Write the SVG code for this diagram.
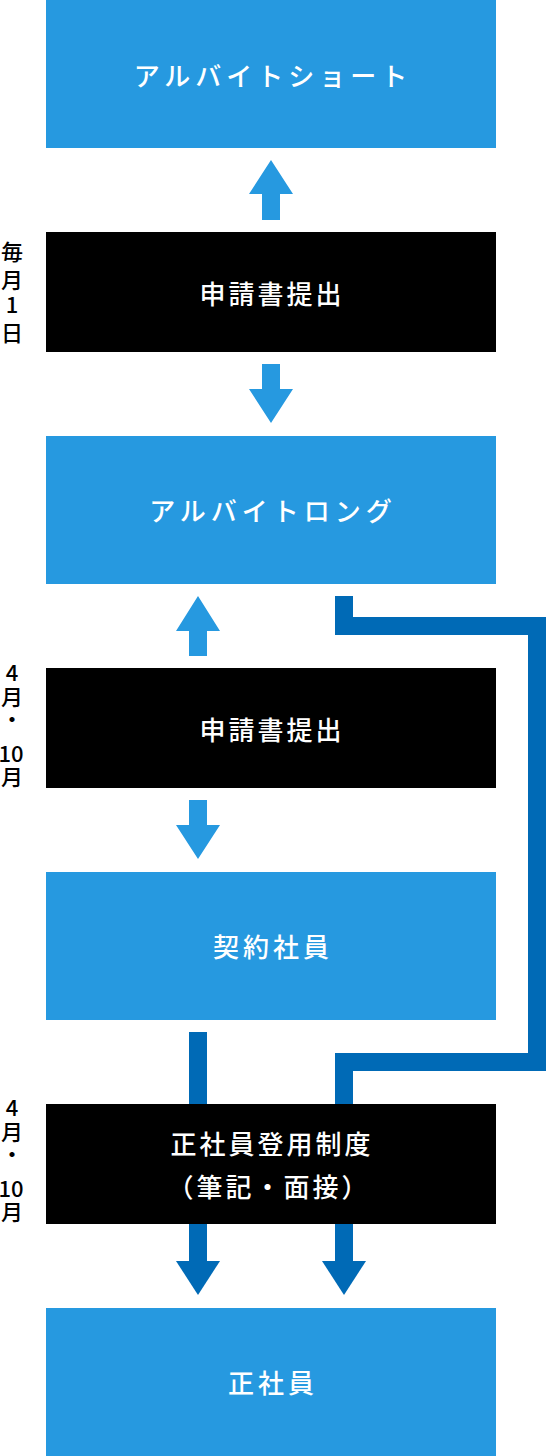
<svg xmlns="http://www.w3.org/2000/svg" width="546" height="1456" viewBox="0 0 546 1456">
<style>
.lb{fill:#2699e0}
.dk{fill:#000}
.db{fill:#006ab6}
.t{font-family:"Noto Sans CJK JP","Noto Sans",sans-serif;font-size:26px;font-weight:500;fill:#fff;text-anchor:middle;dominant-baseline:central;letter-spacing:5px}
.tb{font-family:"Noto Sans CJK JP","Noto Sans",sans-serif;font-size:26px;font-weight:500;fill:#fff;text-anchor:middle;dominant-baseline:central;letter-spacing:3px}
.s{font-family:"Noto Sans CJK JP","Noto Sans",sans-serif;font-size:22px;font-weight:500;fill:#000;text-anchor:middle}
</style>
<rect width="546" height="1456" fill="#fff"/>
<g id="connectors">
<polygon class="lb" points="271,160 293,194 280,194 280,220 262,220 262,194 249,194"/>
<polygon class="lb" points="262,364 280,364 280,389 293,389 271,423 249,389 262,389"/>
<polygon class="lb" points="198,596 220,631 207,631 207,656 189,656 189,631 176,631"/>
<polygon class="lb" points="189,800 207,800 207,825 220,825 198,859 176,825 189,825"/>
<rect class="db" x="189" y="1032" width="18" height="230"/>
<polygon class="db" points="176,1261 220,1261 198,1295"/>
<path d="M344 596 V626 H537 V1062 H344 V1262" fill="none" stroke="#006ab6" stroke-width="18" stroke-linejoin="miter"/>
<polygon class="db" points="322,1261 366,1261 344,1295"/>
</g>
<g id="node-short">
<rect class="lb" x="46" y="0" width="450" height="148"/>
<text class="t" x="273" y="74">アルバイトショート</text>
</g>
<g id="node-apply1">
<rect class="dk" x="46" y="232" width="450" height="120"/>
<text class="tb" x="272" y="292">申請書提出</text>
</g>
<g id="label-monthly">
<text class="s" x="12" y="260">毎</text>
<text class="s" x="12" y="288">月</text>
<text class="s" x="12" y="313">1</text>
<text class="s" x="12" y="341">日</text>
</g>
<g id="node-long">
<rect class="lb" x="46" y="436" width="450" height="148"/>
<text class="t" x="273" y="509">アルバイトロング</text>
</g>
<g id="node-apply2">
<rect class="dk" x="46" y="668" width="450" height="120"/>
<text class="tb" x="272" y="728">申請書提出</text>
</g>
<g id="label-aproct1">
<text class="s" x="12" y="681">4</text>
<text class="s" x="12" y="705">月</text>
<text class="s" x="12" y="727">・</text>
<text class="s" x="11" y="762">10</text>
<text class="s" x="12" y="785">月</text>
</g>
<g id="node-contract">
<rect class="lb" x="46" y="872" width="450" height="148"/>
<text class="tb" x="273" y="945" style="letter-spacing:4px">契約社員</text>
</g>
<g id="node-promotion">
<rect class="dk" x="46" y="1104" width="450" height="120"/>
<text class="tb" x="272" y="1142">正社員登用制度</text>
<text class="tb" x="269" y="1185">（筆記・面接）</text>
</g>
<g id="label-aproct2">
<text class="s" x="12" y="1116">4</text>
<text class="s" x="12" y="1140">月</text>
<text class="s" x="12" y="1162">・</text>
<text class="s" x="11" y="1197">10</text>
<text class="s" x="12" y="1220">月</text>
</g>
<g id="node-regular">
<rect class="lb" x="46" y="1308" width="450" height="148"/>
<text class="tb" x="273" y="1381" style="letter-spacing:4px">正社員</text>
</g>
</svg>
